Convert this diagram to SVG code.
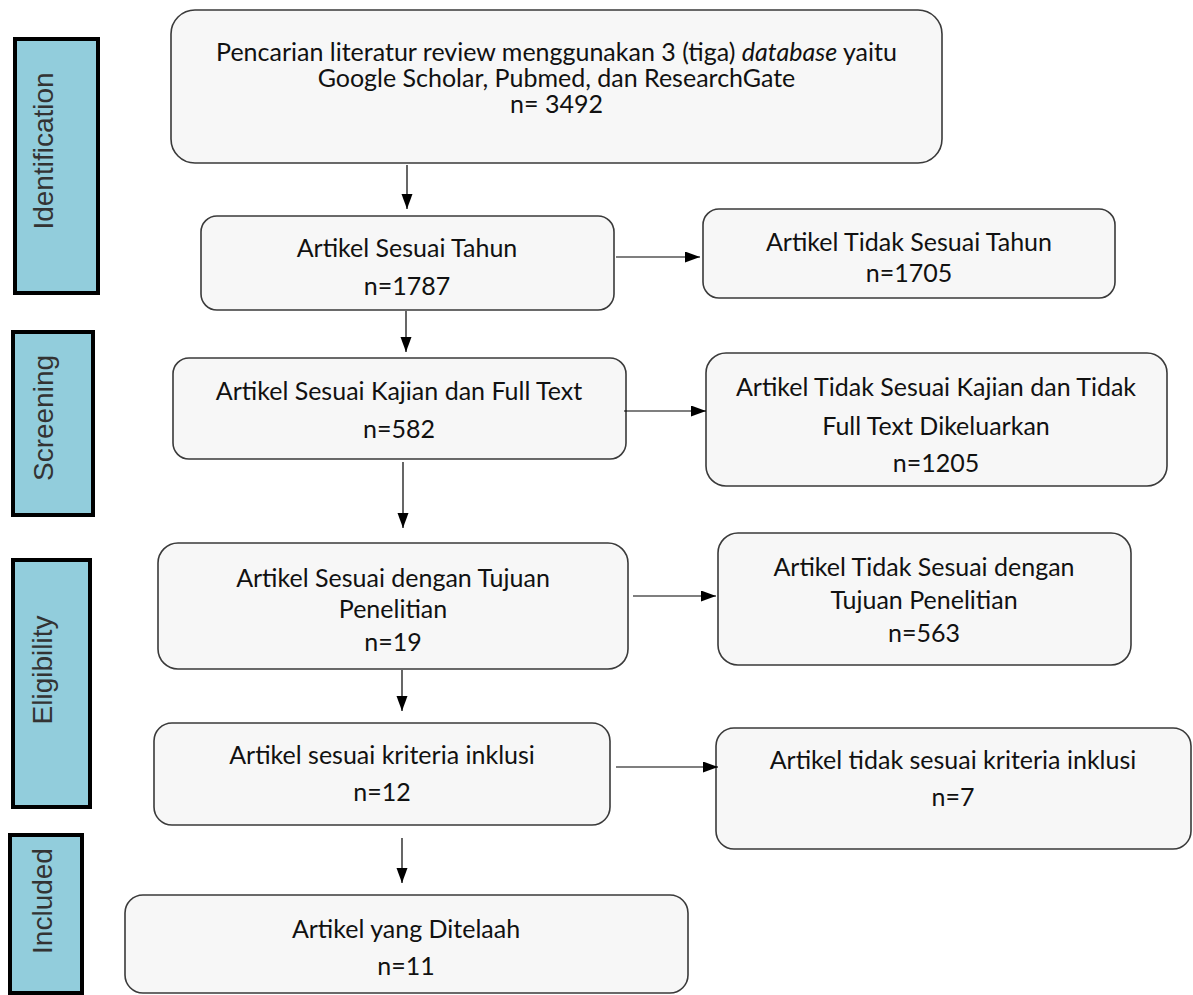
<svg xmlns="http://www.w3.org/2000/svg" width="1193" height="995" viewBox="0 0 1193 995">
<style>
.box{fill:#f7f7f7;stroke:#3a3a3a;stroke-width:1.6}
.side{fill:#92cddc;stroke:#000;stroke-width:4}
.st{font-family:"Liberation Sans",Arial,sans-serif;font-size:28px;fill:#333;text-anchor:middle}
.t{font-family:Lato,"Liberation Sans",sans-serif;font-size:25px;fill:#111;text-anchor:middle}
.c{stroke:#000;stroke-width:1.2;fill:none;marker-end:url(#ah)}
</style>
<defs>
<marker id="ah" markerUnits="userSpaceOnUse" markerWidth="16" markerHeight="12" refX="15" refY="5.5" orient="auto">
<path d="M0,0 L15,5.5 L0,11 z" fill="#000"/>
</marker>
<clipPath id="clip4"><rect x="700" y="350" width="480" height="122"/></clipPath>
</defs>
<rect width="1193" height="995" fill="#fff"/>

<g id="stage-identification"><rect class="side" x="15" y="39" width="83" height="254"/><text class="st" transform="translate(53,151) rotate(-90)">Identification</text></g>
<g id="stage-screening"><rect class="side" x="13" y="332" width="80" height="183"/><text class="st" transform="translate(53,418) rotate(-90)">Screening</text></g>
<g id="stage-eligibility"><rect class="side" x="13" y="560" width="77" height="247"/><text class="st" transform="translate(52,670) rotate(-90)">Eligibility</text></g>
<g id="stage-included"><rect class="side" x="10" y="835" width="72" height="158"/><text class="st" transform="translate(52,901) rotate(-90)">Included</text></g>

<g id="n1"><rect class="box" x="171" y="10" width="771" height="153" rx="24"/>
<text class="t" x="556.5" y="61">Pencarian literatur review menggunakan 3 (tiga) <tspan font-style="italic">database</tspan> yaitu</text>
<text class="t" x="556.5" y="87">Google Scholar, Pubmed, dan ResearchGate</text>
<text class="t" x="556.5" y="113">n= 3492</text></g>

<g id="n2"><rect class="box" x="201" y="216" width="413" height="94" rx="16"/>
<text class="t" x="407" y="257">Artikel Sesuai Tahun</text>
<text class="t" x="407" y="295">n=1787</text></g>

<g id="n2x"><rect class="box" x="703" y="209" width="412" height="89" rx="16"/>
<text class="t" x="909" y="251">Artikel Tidak Sesuai Tahun</text>
<text class="t" x="909" y="282">n=1705</text></g>

<g id="n3"><rect class="box" x="173" y="358" width="453" height="101" rx="16"/>
<text class="t" x="399" y="400">Artikel Sesuai Kajian dan Full Text</text>
<text class="t" x="399" y="438">n=582</text></g>

<g id="n3x"><rect class="box" x="706" y="353" width="461" height="133" rx="20"/>
<text class="t" x="936" y="396">Artikel Tidak Sesuai Kajian dan Tidak</text>
<text class="t" x="936" y="435">Full Text Dikeluarkan</text>
<text class="t" x="936" y="472" clip-path="url(#clip4)">n=1205</text></g>

<g id="n4"><rect class="box" x="158" y="543" width="470" height="126" rx="20"/>
<text class="t" x="393" y="587">Artikel Sesuai dengan Tujuan</text>
<text class="t" x="393" y="618">Penelitian</text>
<text class="t" x="393" y="651">n=19</text></g>

<g id="n4x"><rect class="box" x="718" y="533" width="413" height="132" rx="20"/>
<text class="t" x="924" y="576">Artikel Tidak Sesuai dengan</text>
<text class="t" x="924" y="609">Tujuan Penelitian</text>
<text class="t" x="924" y="642">n=563</text></g>

<g id="n5"><rect class="box" x="154" y="723" width="456" height="102" rx="18"/>
<text class="t" x="382" y="764">Artikel sesuai kriteria inklusi</text>
<text class="t" x="382" y="801">n=12</text></g>

<g id="n5x"><rect class="box" x="716" y="728" width="475" height="121" rx="18"/>
<text class="t" x="953" y="769">Artikel tidak sesuai kriteria inklusi</text>
<text class="t" x="953" y="806">n=7</text></g>

<g id="n6"><rect class="box" x="125" y="895" width="563" height="98" rx="18"/>
<text class="t" x="406" y="938">Artikel yang Ditelaah</text>
<text class="t" x="406" y="975">n=11</text></g>

<g id="connectors">
<line class="c" x1="407" y1="165" x2="407" y2="209"/>
<line class="c" x1="406" y1="311" x2="406" y2="352"/>
<line class="c" x1="403" y1="462" x2="403" y2="528"/>
<line class="c" x1="402" y1="670" x2="402" y2="711"/>
<line class="c" x1="402" y1="838" x2="402" y2="883"/>
<line class="c" x1="616" y1="257" x2="700" y2="257"/>
<line class="c" x1="624" y1="411" x2="706" y2="411"/>
<line class="c" x1="633" y1="596" x2="716" y2="596"/>
<line class="c" x1="616" y1="767" x2="718" y2="767"/>
</g>
</svg>
